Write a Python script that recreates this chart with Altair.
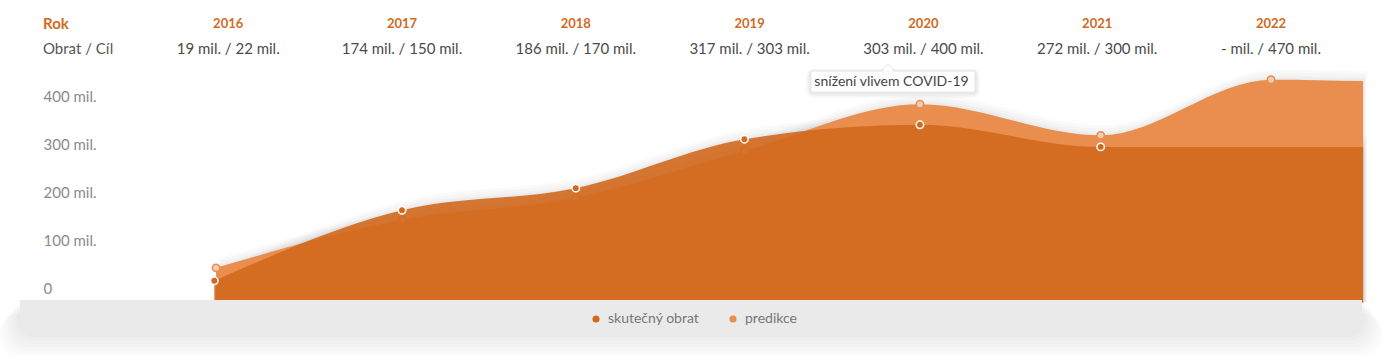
import altair as alt
import pandas as pd

# ---------------- data ----------------
years = [2016, 2017, 2018, 2019, 2020, 2021, 2022]
obrat = ["19", "174", "186", "317", "303", "272", "-"]
cil = ["22", "150", "170", "303", "400", "300", "470"]

series_names = ["skutečný obrat", "predikce"]

# curve positions (x in fractional years, y in mil.)
actual_x = [2015.92, 2017.0, 2018.0, 2018.97, 2019.98, 2021.02, 2022.53]
actual_y = [15, 162, 208, 310, 340, 294, 294]
actual_marked = [True, True, True, True, True, True, False]

pred_x = [2015.93, 2017.0, 2018.0, 2018.97, 2019.98, 2021.02, 2022.0, 2022.53]
pred_y = [42, 142, 188, 286, 383, 318, 434, 431]
pred_marked = [True, True, True, True, True, True, True, False]

y_ticks = [0, 100, 200, 300, 400]
note_text = "snížení vlivem COVID-19"

DARK = "#D2691E"
LIGHT = "#E98E4E"
FONT = "Lato"

actual_df = pd.DataFrame({"x": actual_x, "v": actual_y, "s": series_names[0], "m": actual_marked})
pred_df = pd.DataFrame({"x": pred_x, "v": pred_y, "s": series_names[1], "m": pred_marked})
head_df = pd.DataFrame({
    "year": years,
    "label": [f"{o} mil. / {c} mil." for o, c in zip(obrat, cil)],
})

xscale = alt.Scale(domain=[2017, 2022], range=[402, 1271], nice=False, zero=False)
yscale = alt.Scale(domain=[0, 400], range=[288, 96], nice=False, zero=False)
cscale = alt.Scale(domain=series_names, range=[DARK, LIGHT])

yaxis = alt.Axis(
    values=y_ticks,
    labelExpr="datum.value == 0 ? '0' : datum.value + ' mil.'",
    offset=-43, labelAlign="left", labelPadding=0, tickSize=0, ticks=False,
    domain=False, grid=False, title=None, labelFontSize=15, labelFont=FONT,
    labelColor="#8a8a8a", labelBaseline="middle",
)

X = alt.X("x:Q", scale=xscale, axis=None)
Y = alt.Y("v:Q", scale=yscale, axis=yaxis)
Y2 = alt.datum(-30)

legend = alt.Legend(
    orient="none", legendX=589, legendY=312, direction="horizontal", title=None,
    symbolType="circle", symbolSize=50, symbolStrokeWidth=0, symbolOpacity=1,
    labelFontSize=14, labelFont=FONT, labelColor="#777777", labelOffset=5,
    columnPadding=26,
)
C = alt.Color("s:N", scale=cscale, legend=legend)

# ---------- shadows of the curve areas ----------
shadow_layers = []
for dx, dy in [(1, -2), (2, -4), (3, -7), (4, -10)]:
    for df in (pred_df, actual_df):
        shadow_layers.append(
            alt.Chart(df).mark_area(interpolate="monotone", color="black", opacity=0.018,
                                    xOffset=dx, yOffset=dy)
            .encode(x=X, y=Y, y2=Y2)
        )

pred_area = alt.Chart(pred_df).mark_area(interpolate="monotone", opacity=1).encode(
    x=X, y=Y, y2=Y2, color=C)
pred_pts = alt.Chart(pred_df).transform_filter("datum.m").mark_point(
    filled=True, size=55, fill="#EDCDB6", stroke=LIGHT, strokeWidth=1.5, opacity=1
).encode(x=X, y=Y)
actual_area = alt.Chart(actual_df).mark_area(interpolate="monotone", opacity=0.9).encode(
    x=X, y=Y, y2=Y2, color=C)
actual_pts = alt.Chart(actual_df).transform_filter("datum.m").mark_point(
    filled=True, size=55, fill=DARK, stroke="white", strokeWidth=1.5, opacity=1
).encode(x=X, y=Y)

one = pd.DataFrame({"a": [0]})

# ---------- bottom band with soft shadow ----------
band_shadow = []
for i in range(7):
    g = (i + 1) * 3
    band_shadow.append(
        alt.Chart(one).mark_rect(
            color="black", opacity=0.01,
            cornerRadiusBottomLeft=22 + g, cornerRadiusBottomRight=22 + g,
            cornerRadiusTopLeft=g, cornerRadiusTopRight=g,
        ).encode(x=alt.value(20 - g), x2=alt.value(1362 + g),
                 y=alt.value(301 + g * 0.6), y2=alt.value(334 + g * 1.1))
    )
band = alt.Chart(one).mark_rect(
    color="#EAEAEA", cornerRadiusBottomLeft=22, cornerRadiusBottomRight=22
).encode(x=alt.value(20), x2=alt.value(1362), y=alt.value(300), y2=alt.value(334))

# ---------- header ----------
rok = alt.Chart(one).mark_text(text="Rok", align="left", baseline="middle", font=FONT,
                               fontSize=15, fontWeight="bold", color=DARK
                               ).encode(x=alt.value(43), y=alt.value(24))
obrat_cil = alt.Chart(one).mark_text(text="Obrat / Cíl", align="left", baseline="middle",
                                     font=FONT, fontSize=15, color="#555555"
                                     ).encode(x=alt.value(43), y=alt.value(48.5))
year_txt = alt.Chart(head_df).mark_text(baseline="middle", font=FONT, fontSize=13,
                                        fontWeight="bold", color=DARK
                                        ).encode(x=alt.X("year:Q", scale=xscale, axis=None),
                                                 y=alt.value(24), text="year:N")
val_txt = alt.Chart(head_df).mark_text(baseline="middle", font=FONT, fontSize=15,
                                       color="#4a4a4a"
                                       ).encode(x=alt.X("year:Q", scale=xscale, axis=None),
                                                y=alt.value(48.5), text="label:N")

# ---------- note box ----------
note_shadow = []
for g in [1, 2, 3, 4, 5]:
    note_shadow.append(
        alt.Chart(one).mark_rect(color="black", opacity=0.018, cornerRadius=2 + g)
        .encode(x=alt.value(811 - g), x2=alt.value(975 + g),
                y=alt.value(71 - g * 0.4), y2=alt.value(92 + g * 1.2))
    )
tri_path = "M -1 0.5 L 0 -0.5 L 1 0.5 Z"
tri = alt.Chart(one).mark_point(shape=tri_path, size=169, filled=True, fill="white",
                                stroke="#E2E2E2", strokeWidth=1, opacity=1
                                ).encode(x=alt.value(888), y=alt.value(67.5))
box = alt.Chart(one).mark_rect(fill="white", stroke="#E8E8E8", strokeWidth=1, cornerRadius=2
                               ).encode(x=alt.value(811), x2=alt.value(975),
                                        y=alt.value(71), y2=alt.value(92))
tri_cover = alt.Chart(one).mark_point(shape=tri_path, size=130, filled=True, fill="white",
                                      strokeWidth=0, opacity=1
                                      ).encode(x=alt.value(888), y=alt.value(68.8))
note = alt.Chart(one).mark_text(text=note_text, baseline="middle", align="center", font=FONT,
                                fontSize=14, color="#444444"
                                ).encode(x=alt.value(891.5), y=alt.value(82))

chart = alt.layer(
    *shadow_layers, pred_area, pred_pts, actual_area, actual_pts,
    *band_shadow, band,
    rok, obrat_cil, year_txt, val_txt,
    *note_shadow, tri, box, tri_cover, note,
).properties(
    width=1382, height=356, autosize=alt.AutoSizeParams(type="none"), padding=0,
    background="white",
).configure_view(stroke=None)

chart.save("out.html", embed_options={"renderer": "svg", "actions": False})
